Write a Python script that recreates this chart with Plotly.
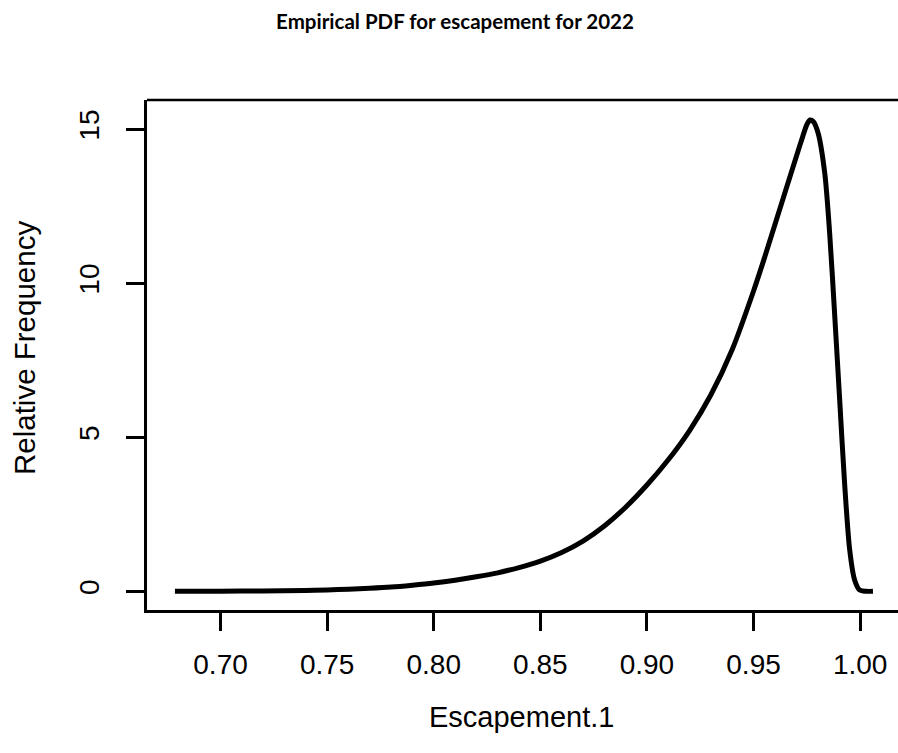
import plotly.graph_objects as go

# Data
escapement = [0.6786, 0.70, 0.72, 0.74, 0.75, 0.76, 0.77, 0.78, 0.79, 0.80,
              0.81, 0.82, 0.83, 0.84, 0.85, 0.86, 0.87, 0.88, 0.89, 0.90,
              0.91, 0.92, 0.93, 0.94, 0.95, 0.955, 0.96, 0.965, 0.97, 0.973,
              0.975, 0.9765, 0.978, 0.9803, 0.9834, 0.9857, 0.9881, 0.9904,
              0.9927, 0.9951, 0.9974, 0.9998, 1.003, 1.006]
rel_freq = [0.0, 0.005, 0.012, 0.03, 0.045, 0.07, 0.10, 0.14, 0.20, 0.27,
            0.36, 0.47, 0.60, 0.77, 0.98, 1.26, 1.63, 2.12, 2.73, 3.45,
            4.27, 5.22, 6.38, 7.85, 9.75, 10.8, 11.9, 13.0, 14.1, 14.75,
            15.15, 15.3, 15.25, 14.87, 13.57, 11.62, 8.92, 6.21,
            3.51, 1.34, 0.37, 0.04, 0.0, 0.0]

x_ticks = [0.70, 0.75, 0.80, 0.85, 0.90, 0.95, 1.00]
x_tick_labels = ["0.70", "0.75", "0.80", "0.85", "0.90", "0.95", "1.00"]
y_ticks = [0, 5, 10, 15]
y_tick_labels = ["0", "5", "10", "15"]

title_text = "Empirical PDF for escapement for 2022"
x_title = "Escapement.1"
y_title = "Relative Frequency"

W, H = 898, 753
L, T, B = 147, 100, 610
px_per_x = 2132.0
x_lo = 0.6655
x_hi = x_lo + (W - L) / px_per_x
y_lo, y_hi = -0.607, 15.95

font_main = "Liberation Sans, Arial, sans-serif"

fig = go.Figure()
fig.add_trace(go.Scatter(
    x=escapement, y=rel_freq, mode="lines",
    line=dict(color="black", width=5, shape="spline", smoothing=0.8),
    hoverinfo="skip", showlegend=False,
))

axis_common = dict(
    showgrid=False, zeroline=False, showline=True, linecolor="black", linewidth=2.5,
    ticks="outside", ticklen=18, tickwidth=2.5, tickcolor="black",
    tickfont=dict(family=font_main, size=28, color="black"),
)

fig.update_layout(
    width=W, height=H,
    margin=dict(l=L, r=0, t=T, b=H - B, pad=0),
    plot_bgcolor="white", paper_bgcolor="white",
    xaxis=dict(range=[x_lo, x_hi], tickvals=x_ticks, ticktext=x_tick_labels,
               ticklabelstandoff=10, **axis_common),
    yaxis=dict(range=[y_lo, y_hi], tickvals=y_ticks, ticktext=y_tick_labels,
               tickangle=-90, ticklabelstandoff=16, **axis_common),
    title=dict(text="<b>" + title_text + "</b>", xref="container", yref="container",
               x=455 / W, xanchor="center", y=1 - 22 / H, yanchor="middle",
               font=dict(family="Lato, Open Sans, sans-serif", size=20.5, color="black")),
    shapes=[dict(type="line", xref="paper", yref="paper", x0=0, x1=1, y0=1, y1=1,
                 line=dict(color="black", width=2.5))],
    annotations=[
        dict(text=x_title, xref="paper", yref="paper",
             x=(521 - L) / (W - L), y=(B - 717) / (B - T),
             xanchor="center", yanchor="middle", showarrow=False,
             font=dict(family=font_main, size=29, color="black")),
        dict(text=y_title, xref="paper", yref="paper",
             x=(24 - L) / (W - L), y=(B - 348) / (B - T), textangle=-90,
             xanchor="center", yanchor="middle", showarrow=False,
             font=dict(family=font_main, size=29.5, color="black")),
    ],
)

fig.write_html("out.html")
